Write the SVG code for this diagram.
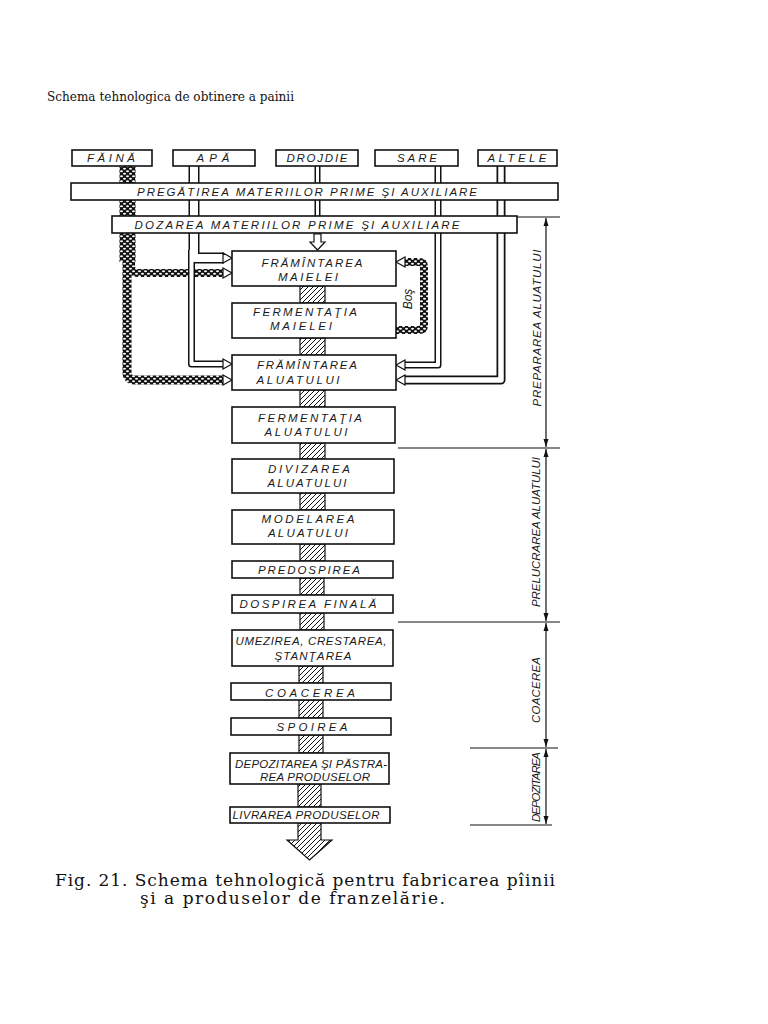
<svg xmlns="http://www.w3.org/2000/svg" width="768" height="1024" viewBox="0 0 768 1024">
<defs>
<pattern id="hatch" patternUnits="userSpaceOnUse" width="5" height="5">
<rect width="5" height="5" fill="#fff"/>
<path d="M-1,1 l2,-2 M0,5 l5,-5 M4,6 l2,-2" stroke="#111" stroke-width="1"/>
</pattern>
<pattern id="cobble" patternUnits="userSpaceOnUse" width="6" height="5">
<rect width="6" height="5" fill="#111"/>
<ellipse cx="1.5" cy="1.25" rx="1.5" ry="1.05" fill="#fff"/>
<ellipse cx="4.5" cy="3.75" rx="1.5" ry="1.05" fill="#fff"/>
</pattern>
<marker id="dimA" viewBox="0 0 8 6" refX="8" refY="3" markerWidth="8" markerHeight="6" orient="auto-start-reverse" markerUnits="userSpaceOnUse">
<path d="M0,0.5 L8,3 L0,5.5 Z" fill="#111"/>
</marker>
</defs>
<style>
.box{fill:#fff;stroke:#111;stroke-width:1.6}
.lbl{font-family:"Liberation Sans","DejaVu Sans",sans-serif;font-style:italic;font-size:11.5px;fill:#1a1a1a;text-anchor:middle}
.po{fill:none;stroke:#111;stroke-linejoin:round;stroke-linecap:butt}
.pi{fill:none;stroke:#fff;stroke-linejoin:round;stroke-linecap:butt}
.cob{fill:none;stroke:url(#cobble);stroke-linejoin:round}
.hat{fill:url(#hatch);stroke:#111;stroke-width:1.2}
.ah{fill:#fff;stroke:#111;stroke-width:1.2}
.dim{stroke:#111;stroke-width:1.2;fill:none}
.cap{font-family:"DejaVu Serif","Liberation Serif",serif;font-size:17px;fill:#111}
</style>
<rect width="768" height="1024" fill="#fff"/>
<text x="47" y="101" font-family="DejaVu Serif, Liberation Serif, serif" font-size="12.5" fill="#111" textLength="247" lengthAdjust="spacingAndGlyphs">Schema tehnologica de obtinere a painii</text>

<g id="connectors">
<path class="cob" d="M127.5 166 V262" stroke-width="16"/>
<path class="cob" d="M127 255 V372 Q127 380 135 380 H224" stroke-width="9"/>
<path class="cob" d="M131 255 V266 Q131 273 138 273 H224" stroke-width="8"/>
<path class="po" d="M194 166 V258 H224" stroke-width="11"/>
<path class="po" d="M191.5 250 V364 H224" stroke-width="7"/>
<path class="po" d="M317.5 166 V234" stroke-width="6"/>
<path class="po" d="M438 166 V365 H404" stroke-width="7"/>
<path class="po" d="M501 166 V380 H404" stroke-width="9"/>
<path class="pi" d="M194 166 V258 H224" stroke-width="8"/>
<path class="pi" d="M191.5 250 V364 H224" stroke-width="4"/>
<path class="pi" d="M317.5 166 V234" stroke-width="3"/>
<path class="pi" d="M438 166 V365 H404" stroke-width="4"/>
<path class="pi" d="M501 166 V380 H404" stroke-width="5.5"/>
<path class="cob" d="M395 330 H419 Q424 330 424 325 V267 Q424 262 419 262 H405" stroke-width="8"/>
<polygon class="ah" points="223,253 232,258 223,263"/>
<polygon class="ah" points="223,268 232,273 223,278"/>
<polygon class="ah" points="223,359 232,364 223,369"/>
<polygon class="ah" points="223,375 232,380 223,385"/>
<polygon class="ah" points="405,257 396,262 405,267"/>
<polygon class="ah" points="405,360 396,365 405,370"/>
<polygon class="ah" points="405,375 396,380 405,385"/>
<polygon class="ah" points="314,234 321,234 321,242 325,242 317.5,250 310,242 314,242"/>
<rect class="hat" x="300" y="286" width="25" height="17"/>
<rect class="hat" x="300" y="338" width="25" height="17"/>
<rect class="hat" x="300" y="390" width="25" height="17"/>
<rect class="hat" x="300" y="443" width="25" height="16"/>
<rect class="hat" x="300" y="493" width="25" height="17"/>
<rect class="hat" x="300" y="544" width="25" height="17"/>
<rect class="hat" x="300" y="578" width="24" height="17"/>
<rect class="hat" x="300" y="613" width="24" height="17"/>
<rect class="hat" x="299" y="666" width="24" height="17"/>
<rect class="hat" x="299" y="700" width="24" height="18"/>
<rect class="hat" x="299" y="735" width="24" height="18"/>
<rect class="hat" x="298" y="784" width="23" height="23"/>
<polygon class="hat" points="298,823 321,823 321,840 332,840 309.5,860 287,840 298,840"/>
</g>

<g id="inputs">
<g id="n-faina"><rect class="box" x="72" y="150" width="80" height="16"/><text class="lbl" x="111" y="161.5" textLength="48" lengthAdjust="spacing">FĂINĂ</text></g>
<g id="n-apa"><rect class="box" x="173" y="150" width="82" height="16"/><text class="lbl" x="213" y="161.5" textLength="33" lengthAdjust="spacing">APĂ</text></g>
<g id="n-drojdie"><rect class="box" x="276" y="150" width="82" height="16"/><text class="lbl" x="317" y="161.5" textLength="61" lengthAdjust="spacing">DROJDIE</text></g>
<g id="n-sare"><rect class="box" x="375" y="150" width="83" height="16"/><text class="lbl" x="417" y="161.5" textLength="40" lengthAdjust="spacing">SARE</text></g>
<g id="n-altele"><rect class="box" x="478" y="150" width="79" height="16"/><text class="lbl" x="517" y="161.5" textLength="59" lengthAdjust="spacing">ALTELE</text></g>
</g>

<g id="n-pregatirea"><rect class="box" x="71" y="183" width="487" height="17"/><text class="lbl" x="307" y="196" textLength="340" lengthAdjust="spacing">PREGĂTIREA MATERIILOR PRIME ŞI AUXILIARE</text></g>
<g id="n-dozarea"><rect class="box" x="112" y="216" width="405" height="17"/><text class="lbl" x="297" y="229" textLength="325" lengthAdjust="spacing">DOZAREA MATERIILOR PRIME ŞI AUXILIARE</text></g>

<g id="n-framintarea-maielei"><rect class="box" x="232" y="251" width="164" height="35"/><text class="lbl" x="312" y="267" textLength="101" lengthAdjust="spacing">FRĂMÎNTAREA</text><text class="lbl" x="308" y="281" textLength="60" lengthAdjust="spacing">MAIELEI</text></g>
<g id="n-fermentatia-maielei"><rect class="box" x="232" y="303" width="164" height="35"/><text class="lbl" x="305" y="316" textLength="104" lengthAdjust="spacing">FERMENTAŢIA</text><text class="lbl" x="301" y="330" textLength="62" lengthAdjust="spacing">MAIELEI</text></g>
<g id="n-framintarea-aluatului"><rect class="box" x="232" y="355" width="164" height="35"/><text class="lbl" x="307" y="369" textLength="100" lengthAdjust="spacing">FRĂMÎNTAREA</text><text class="lbl" x="298" y="384" textLength="83" lengthAdjust="spacing">ALUATULUI</text></g>
<g id="n-fermentatia-aluatului"><rect class="box" x="232" y="407" width="163" height="36"/><text class="lbl" x="310" y="422" textLength="104" lengthAdjust="spacing">FERMENTAŢIA</text><text class="lbl" x="306" y="436" textLength="83" lengthAdjust="spacing">ALUATULUI</text></g>
<g id="n-divizarea"><rect class="box" x="232" y="459" width="162" height="34"/><text class="lbl" x="309" y="473" textLength="82" lengthAdjust="spacing">DIVIZAREA</text><text class="lbl" x="307" y="487" textLength="79" lengthAdjust="spacing">ALUATULUI</text></g>
<g id="n-modelarea"><rect class="box" x="232" y="510" width="162" height="34"/><text class="lbl" x="308" y="523" textLength="93" lengthAdjust="spacing">MODELAREA</text><text class="lbl" x="308" y="537" textLength="80" lengthAdjust="spacing">ALUATULUI</text></g>
<g id="n-predospirea"><rect class="box" x="232" y="561" width="161" height="17"/><text class="lbl" x="309" y="574" textLength="102" lengthAdjust="spacing">PREDOSPIREA</text></g>
<g id="n-dospirea"><rect class="box" x="232" y="595" width="161" height="18"/><text class="lbl" x="308" y="608" textLength="137" lengthAdjust="spacing">DOSPIREA FINALĂ</text></g>
<g id="n-umezirea"><rect class="box" x="232" y="630" width="161" height="36"/><text class="lbl" x="311" y="645" textLength="151" lengthAdjust="spacing">UMEZIREA, CRESTAREA,</text><text class="lbl" x="313" y="660" textLength="77" lengthAdjust="spacing">ŞTANŢAREA</text></g>
<g id="n-coacerea"><rect class="box" x="231" y="683" width="160" height="17"/><text class="lbl" x="310" y="697" textLength="90" lengthAdjust="spacing">COACEREA</text></g>
<g id="n-spoirea"><rect class="box" x="231" y="718" width="160" height="17"/><text class="lbl" x="312" y="731" textLength="71" lengthAdjust="spacing">SPOIREA</text></g>
<g id="n-depozitarea"><rect class="box" x="230" y="753" width="159" height="31"/><text class="lbl" x="311" y="768" textLength="152" lengthAdjust="spacing">DEPOZITAREA ŞI PĂSTRA-</text><text class="lbl" x="315" y="781" textLength="110" lengthAdjust="spacing">REA PRODUSELOR</text></g>
<g id="n-livrarea"><rect class="box" x="230" y="807" width="160" height="16"/><text class="lbl" x="306" y="819" textLength="147" lengthAdjust="spacing">LIVRAREA PRODUSELOR</text></g>

<text class="lbl" transform="translate(412,299) rotate(-90)" style="font-size:12px">Boş</text>

<g id="phases">
<line class="dim" x1="517" y1="217" x2="560" y2="217"/>
<line class="dim" x1="398" y1="448" x2="560" y2="448"/>
<line class="dim" x1="398" y1="622" x2="560" y2="622"/>
<line class="dim" x1="470" y1="748" x2="558" y2="748"/>
<line class="dim" x1="470" y1="825" x2="552" y2="825"/>
<line class="dim" x1="546" y1="218" x2="546" y2="447" marker-start="url(#dimA)" marker-end="url(#dimA)"/>
<line class="dim" x1="546" y1="449" x2="546" y2="621" marker-start="url(#dimA)" marker-end="url(#dimA)"/>
<line class="dim" x1="546" y1="623" x2="546" y2="747" marker-start="url(#dimA)" marker-end="url(#dimA)"/>
<line class="dim" x1="546" y1="749" x2="546" y2="824" marker-start="url(#dimA)" marker-end="url(#dimA)"/>
<text class="lbl" transform="translate(541,328) rotate(-90)" textLength="157" lengthAdjust="spacing">PREPARAREA ALUATULUI</text>
<text class="lbl" transform="translate(540,532) rotate(-90)" textLength="150" lengthAdjust="spacing">PRELUCRAREA ALUATULUI</text>
<text class="lbl" transform="translate(540,690) rotate(-90)" textLength="66" lengthAdjust="spacing">COACEREA</text>
<text class="lbl" transform="translate(540,787) rotate(-90)" textLength="70" lengthAdjust="spacing">DEPOZITAREA</text>
</g>

<text class="cap" x="55" y="886" textLength="500" lengthAdjust="spacing">Fig. 21. Schema tehnologică pentru fabricarea pîinii</text>
<text class="cap" x="140" y="904" textLength="305" lengthAdjust="spacing">şi a produselor de franzelărie.</text>
</svg>
